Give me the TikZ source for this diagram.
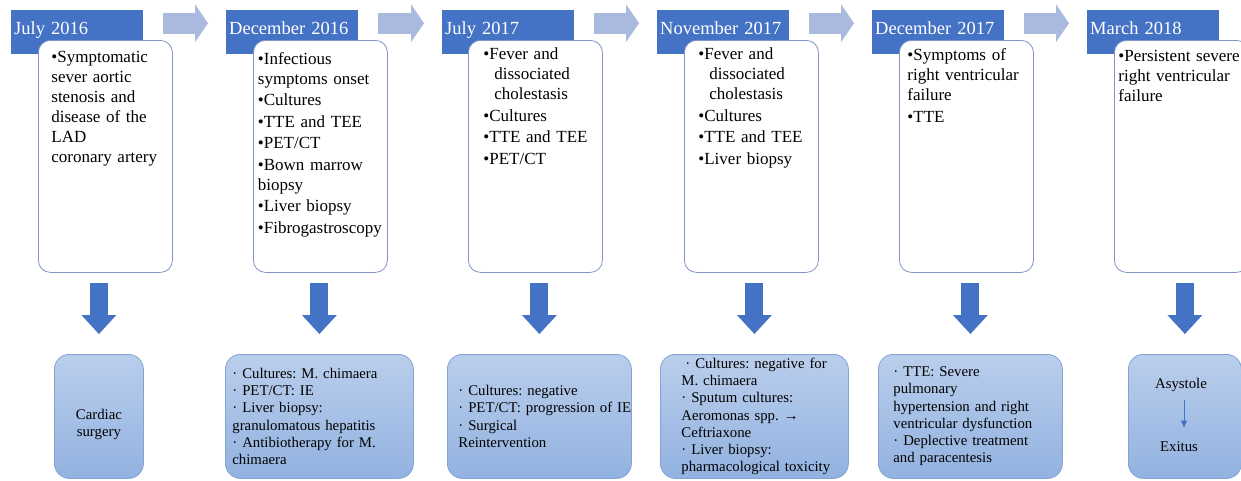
\documentclass[tikz,border=0pt]{standalone}
\usepackage{fontspec}
\setmainfont{Liberation Serif}
\usetikzlibrary{arrows.meta}
\definecolor{tabblue}{RGB}{68,114,196}
\definecolor{chevblue}{RGB}{170,186,222}
\definecolor{boxline}{RGB}{128,150,196}
\definecolor{restop}{RGB}{186,206,236}
\definecolor{resbot}{RGB}{146,178,224}
\definecolor{resline}{RGB}{132,162,210}
\tikzstyle{datetab}=[fill=tabblue,text=white,anchor=north west,text width=126pt,inner xsep=3pt,inner ysep=0pt,text height=24pt,text depth=20pt,align=left,font=\fontsize{18.5}{20}\selectfont]
\tikzstyle{eventbox}=[draw=boxline,line width=0.8pt,fill=white,rounded corners=12pt,anchor=north west,text width=134pt,inner xsep=0pt,inner ysep=6pt,text height=16.5pt,text depth=203.5pt,align=left,font=\fontsize{17}{20}\selectfont\frenchspacing]
\tikzstyle{resultbox}=[draw=resline,line width=0.8pt,top color=restop,bottom color=resbot,rounded corners=15pt,anchor=north west,minimum height=124pt,inner xsep=0pt,inner ysep=0pt,align=left,font=\fontsize{14.8}{17.2}\selectfont\frenchspacing]
\tikzstyle{plainlabel}=[font=\fontsize{14.8}{17.2}\selectfont]
\tikzstyle{chevron}=[draw=chevblue,line width=21pt,-{Triangle[width=38pt,length=13pt,line width=0pt]},shorten <=20pt,shorten >=18pt]
\tikzstyle{bigdown}=[draw=tabblue,line width=18pt,-{Triangle[width=35pt,length=19pt,line width=0pt]},shorten <=10pt,shorten >=20pt]
\tikzstyle{smalldown}=[draw=tabblue,line width=0.8pt,-{Triangle[width=6pt,length=7pt]},shorten <=5pt,shorten >=11pt]
\newcommand{\pxunit}{1pt}

\begin{document}
\begin{tikzpicture}[x=\pxunit,y=-\pxunit]
    \useasboundingbox (0,0) rectangle (1241,480);
    \node[datetab] (T1) at (11,10)   {July 2016};
    \node[datetab] (T2) at (226,10)  {December 2016};
    \node[datetab] (T3) at (442,10)  {July 2017};
    \node[datetab] (T4) at (657,10)  {November 2017};
    \node[datetab] (T5) at (872,10)  {December 2017};
    \node[datetab] (T6) at (1087,10) {March 2018};
    \draw[chevron] ([yshift=9pt]T1.east) -- ([yshift=9pt]T2.west);
    \draw[chevron] ([yshift=9pt]T2.east) -- ([yshift=9pt]T3.west);
    \draw[chevron] ([yshift=9pt]T3.east) -- ([yshift=9pt]T4.west);
    \draw[chevron] ([yshift=9pt]T4.east) -- ([yshift=9pt]T5.west);
    \draw[chevron] ([yshift=9pt]T5.east) -- ([yshift=9pt]T6.west);
    \node[eventbox] (E1) at (38,40)
        {\leftskip=13pt •Symptomatic\\sever aortic\\stenosis and\\disease of the\\LAD\\coronary artery\par};
    \node[eventbox,text height=18pt,text depth=202pt] (E2) at (253,40)
        {\leftskip=4.5pt •Infectious\\symptoms onset\\[1.5pt]•Cultures\\[1.5pt]•TTE and TEE\\[1.5pt]•PET/CT\\[1.5pt]•Bown marrow\\biopsy\\[1.5pt]•Liver biopsy\\[1.5pt]•Fibrogastroscopy\par};
    \node[eventbox,text height=13.5pt,text depth=206.5pt] (E3) at (468,40)
        {\leftskip=15pt •Fever and\\\hspace*{11pt}dissociated\\\hspace*{11pt}cholestasis\\[1.5pt]•Cultures\\[1.5pt]•TTE and TEE\\[1.5pt]•PET/CT\par};
    \node[eventbox,text height=13.5pt,text depth=206.5pt] (E4) at (684,40)
        {\leftskip=14pt •Fever and\\\hspace*{11pt}dissociated\\\hspace*{11pt}cholestasis\\[1.5pt]•Cultures\\[1.5pt]•TTE and TEE\\[1.5pt]•Liver biopsy\par};
    \node[eventbox,text height=14.5pt,text depth=205.5pt] (E5) at (899,40)
        {\leftskip=8pt •Symptoms of\\right ventricular\\failure\\[2pt]•TTE\par};
    \node[eventbox,text height=15.5pt,text depth=204.5pt] (E6) at (1114,40)
        {\leftskip=4pt •Persistent severe\\right ventricular\\failure\par};
    \node[resultbox,text width=89pt,align=center,text height=26pt] (R1) at (54,354)
        {Cardiac\\surgery};
    \node[resultbox,text width=188pt] (R2) at (225,354)
        {\leftskip=7pt · Cultures: M. chimaera\\· PET/CT: IE\\· Liver biopsy:\\granulomatous hepatitis\\· Antibiotherapy for M.\\chimaera\par};
    \node[resultbox,text width=184pt] (R3) at (447,354)
        {\leftskip=11pt · Cultures: negative\\· PET/CT: progression of IE\\· Surgical\\Reintervention\par};
    \node[resultbox,text width=188pt] (R4) at (660,354)
        {\leftskip=21pt \hspace*{4pt}· Cultures: negative for\\M. chimaera\\· Sputum cultures:\\Aeromonas spp. →\\Ceftriaxone\\· Liver biopsy:\\pharmacological toxicity\par};
    \node[resultbox,text width=184pt] (R5) at (878,354)
        {\leftskip=15pt · TTE: Severe\\pulmonary\\hypertension and right\\ventricular dysfunction\\· Deplective treatment\\and paracentesis\par};
    \node[resultbox,minimum width=113pt] (R6) at (1128,354) {};
    \node[plainlabel] (Asy) at (1181,385) {Asystole};
    \node[plainlabel] (Exi) at (1179,447) {Exitus};
    \draw[smalldown] ([xshift=3pt]Asy.south) -- ([xshift=5pt]Exi.north);
    \draw[bigdown] (E1.south -| R1.north) -- (R1.north);
    \draw[bigdown] (E2.south -| R2.north) -- (R2.north);
    \draw[bigdown] (E3.south -| R3.north) -- (R3.north);
    \draw[bigdown] (E4.south -| R4.north) -- (R4.north);
    \draw[bigdown] (E5.south -| R5.north) -- (R5.north);
    \draw[bigdown] (E6.south -| R6.north) -- (R6.north);
\end{tikzpicture}
\end{document}
